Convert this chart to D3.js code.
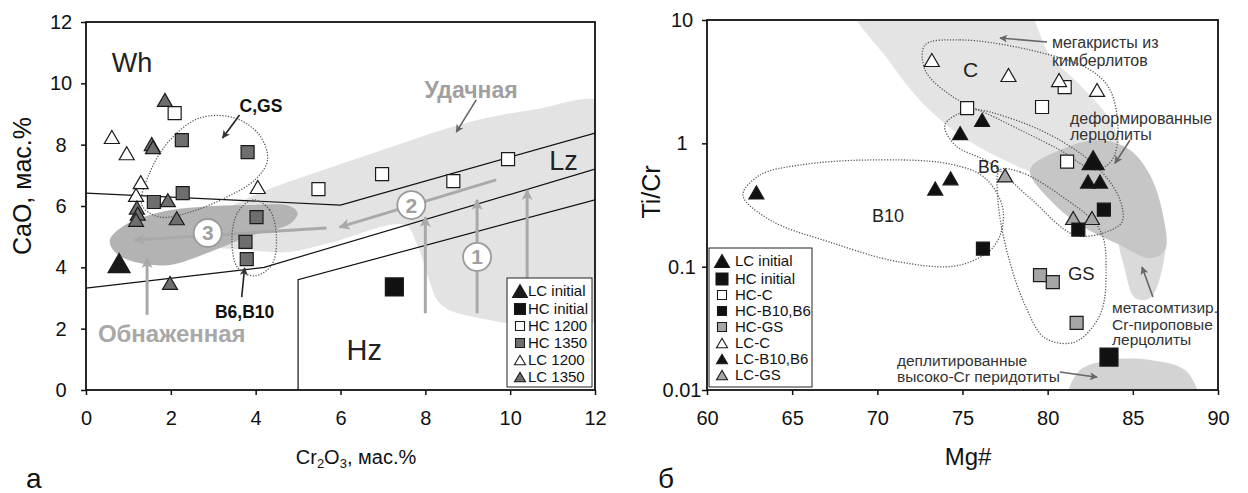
<!DOCTYPE html>
<html>
<head>
<meta charset="utf-8">
<script src="https://cdn.jsdelivr.net/npm/d3@7"></script>
<style>
body { margin: 0; background: #fff; }
svg { display: block; }
text { font-family: "Liberation Sans", Arial, sans-serif; }
</style>
</head>
<body>
<svg id="chart" width="1248" height="493"></svg>
<script>

// ---------- panel a : Cr2O3 vs CaO ----------
var lcInitialA = [[0.78, 4.14]];
var hcInitialA = [[7.27, 3.36]];
var hc1200A = [[2.09, 9.03], [5.48, 6.55], [6.98, 7.04], [8.66, 6.81], [9.95, 7.53]];
var hc1350A = [[2.26, 8.15], [3.81, 7.76], [1.6, 6.13], [2.28, 6.42], [4.02, 5.64], [3.76, 4.83], [3.79, 4.27]];
var lc1200A = [[0.61, 8.25], [0.96, 7.72], [1.29, 6.78], [1.18, 6.36], [4.05, 6.62]];
var lc1350A = [[1.86, 9.46], [1.55, 8.02], [1.58, 7.92], [1.93, 6.19], [2.14, 5.6], [1.98, 3.49],
	[1.2, 5.95], [1.22, 5.75], [1.18, 5.55]];
var ticksA = [0, 2, 4, 6, 8, 10, 12];

// classification lines (Cr2O3, CaO)
var lineUpper = [[0, 6.42], [6, 6.03], [12, 8.38]];
var lineMiddle = [[0, 3.32], [4.2, 4.0], [12, 7.2]];
var lineHz = [[5.0, 0], [5.0, 3.6], [12, 6.2]];

// grey fields
var udachnaya = [[1.98, 4.89], [2.68, 5.48], [4.09, 6.42], [5.04, 6.91], [6.99, 7.83], [8.96, 8.71], [10.52, 9.13],
	[12.3, 9.3], [12.3, 2.45], [8.92, 2.45], [8.33, 2.84], [8.09, 3.59], [7.81, 4.73], [7.51, 5.38],
	[5.74, 4.79], [4.8, 4.5], [3.86, 4.56]];
var obnazhennaya = [[0.56, 4.89], [0.92, 5.38], [1.74, 5.8], [2.68, 5.97], [3.86, 6.03], [4.8, 6.0], [4.99, 5.77],
	[4.8, 5.41], [3.86, 5.02], [2.92, 4.5], [1.98, 4.08], [1.15, 4.17], [0.68, 4.5]];

// dotted outlines
var loopCGS = [[1.32, 6.03], [1.51, 7.11], [1.98, 8.15], [2.68, 8.87], [3.51, 8.87], [4.09, 8.31], [4.28, 7.5],
	[3.98, 6.85], [3.27, 6.26], [2.45, 5.8], [1.74, 5.64]];
var loopB6B10 = [[3.95, 6.2], [4.33, 5.87], [4.49, 4.96], [4.38, 4.08], [3.98, 3.72], [3.58, 3.98], [3.44, 4.89], [3.58, 5.8]];

// ---------- panel b : Mg# vs Ti/Cr ----------
var lcInitialB = [[82.67, 0.73]];
var hcInitialB = [[83.6, 0.0185]];
var hcC = [[75.27, 1.93], [79.67, 1.97], [81.0, 2.86], [81.14, 0.71]];
var hcB10B6 = [[76.2, 0.14], [83.3, 0.29], [81.8, 0.2]];
var hcGS = [[79.55, 0.0855], [80.3, 0.075], [81.7, 0.035]];
var lcC = [[73.2, 4.74], [77.7, 3.58], [80.67, 3.26], [82.9, 2.71]];
var lcB10B6 = [[62.9, 0.4], [73.4, 0.43], [74.3, 0.52], [74.86, 1.21], [76.15, 1.55], [82.37, 0.49], [83.07, 0.49]];
var lcGS = [[77.5, 0.55], [81.5, 0.248], [82.6, 0.248]];
var ticksBx = [60, 65, 70, 75, 80, 85, 90];
var ticksBy = [0.01, 0.1, 1, 10];

var megacrysts = [[68.5, 14], [78.3, 14], [80.14, 5.2], [82.19, 2.71], [83.66, 1.55], [84.25, 0.883], [83.66, 0.553],
	[81.9, 0.459], [79.55, 0.553], [77.2, 0.76], [74.85, 1.17], [72.5, 2.24], [70.74, 4.56]];
var deformed = [[78.96, 0.608], [80.72, 0.883], [83.07, 1.064], [84.83, 0.883], [86.01, 0.553], [86.77, 0.262],
	[86.89, 0.136], [86.01, 0.117], [84.25, 0.15], [81.9, 0.218], [80.14, 0.347]];
var metasomatic = [[84.25, 0.181], [85.42, 0.206], [86.77, 0.181], [86.71, 0.094], [86.01, 0.0557], [85.13, 0.0557], [84.54, 0.094]];
var depleted = [[81.1, 0.008], [81.19, 0.00964], [81.9, 0.0145], [83.66, 0.0175], [86.01, 0.0175], [88.06, 0.0145],
	[88.83, 0.00964], [88.9, 0.008]];

var loopC = [[72.8, 6.27], [74.85, 6.89], [78.96, 5.71], [82.49, 3.94], [83.66, 2.71], [84.13, 1.28], [83.78, 0.733],
	[82.78, 0.608], [80.72, 0.883], [77.2, 1.55], [74.27, 2.47], [72.8, 3.94]];
var loopB6 = [[73.97, 1.41], [75.44, 1.86], [77.79, 1.6], [80.72, 1.06], [83.07, 0.608], [84.25, 0.347], [84.36, 0.23],
	[83.37, 0.19], [81.6, 0.18], [78.96, 0.36], [76.61, 0.693], [74.56, 0.968]];
var loopGS = [[77.2, 0.608], [78.38, 0.586], [80.72, 0.381], [83.07, 0.198], [83.43, 0.094], [83.07, 0.0406],
	[81.6, 0.0245], [79.84, 0.0264], [78.67, 0.0489], [77.67, 0.124], [77.08, 0.347]];
var loopB10 = [[62.11, 0.381], [63.11, 0.553], [65.46, 0.667], [69.57, 0.733], [74.27, 0.679], [76.32, 0.524],
	[77.38, 0.288], [76.91, 0.15], [74.85, 0.103], [71.33, 0.109], [67.22, 0.158], [63.7, 0.239]];

var svg = d3.select("#chart");

var defs = svg.append("defs");
function addMarker(id, color, len, wid) {
	defs.append("marker")
		.attr("id", id)
		.attr("markerUnits", "userSpaceOnUse")
		.attr("viewBox", "0 0 10 10")
		.attr("refX", 9).attr("refY", 5)
		.attr("markerWidth", len).attr("markerHeight", wid)
		.attr("orient", "auto")
		.append("path")
		.attr("d", "M0,0 L10,5 L0,10 L2.5,5 Z")
		.attr("fill", color);
}
addMarker("arrGrey", "#a9a9a9", 13, 11);
addMarker("arrDark", "#333", 10, 8);
addMarker("arrMid", "#666", 10, 8);

// symbol path, w = width in px
function sym(type, w) {
	if (type === "tri") {
		var r = w / (2 * Math.sqrt(3));
		return d3.symbol().type(d3.symbolTriangle).size(3 * Math.sqrt(3) * r * r)();
	}
	return d3.symbol().type(d3.symbolSquare).size(w * w)();
}

function drawPoints(g, data, xs, ys, type, w, fill) {
	var shift = type === "tri" ? w / (4 * Math.sqrt(3)) : 0;
	g.selectAll(null).data(data).enter().append("path")
		.attr("d", sym(type, w))
		.attr("transform", function (d) { return "translate(" + xs(d[0]) + "," + (ys(d[1]) + shift) + ")"; })
		.attr("fill", fill)
		.attr("stroke", "#1a1a1a")
		.attr("stroke-width", 1.2);
}

function area(g, pts, xs, ys, fill) {
	g.append("path")
		.attr("d", d3.line().x(function (d) { return xs(d[0]); }).y(function (d) { return ys(d[1]); })
			.curve(d3.curveCatmullRomClosed.alpha(0.5))(pts))
		.attr("fill", fill);
}

function loop(g, pts, xs, ys) {
	g.append("path")
		.attr("d", d3.line().x(function (d) { return xs(d[0]); }).y(function (d) { return ys(d[1]); })
			.curve(d3.curveCatmullRomClosed.alpha(0.5))(pts))
		.attr("fill", "none")
		.attr("stroke", "#555")
		.attr("stroke-width", 1.3)
		.attr("stroke-dasharray", "1.2,1.6");
}

function arrow(g, p0, p1, xs, ys, color, width, marker) {
	g.append("line")
		.attr("x1", xs(p0[0])).attr("y1", ys(p0[1]))
		.attr("x2", xs(p1[0])).attr("y2", ys(p1[1]))
		.attr("stroke", color).attr("stroke-width", width)
		.attr("marker-end", "url(#" + marker + ")");
}

function label(g, txt, p, xs, ys, size, color, weight) {
	return g.append("text")
		.attr("x", xs(p[0])).attr("y", ys(p[1]))
		.attr("font-size", size)
		.attr("fill", color)
		.attr("font-weight", weight || "normal")
		.text(txt);
}

function numberCircle(g, n, p, xs, ys) {
	g.append("circle")
		.attr("cx", xs(p[0])).attr("cy", ys(p[1])).attr("r", 14)
		.attr("fill", "#fff").attr("stroke", "#9a9a9a").attr("stroke-width", 1.8);
	g.append("text")
		.attr("x", xs(p[0])).attr("y", ys(p[1]) + 7.5)
		.attr("text-anchor", "middle")
		.attr("font-size", 21).attr("font-weight", "bold")
		.attr("fill", "#a0a0a0")
		.text(n);
}

function legend(g, x0, y0, w, h, rows, size) {
	g.append("rect").attr("x", x0).attr("y", y0).attr("width", w).attr("height", h)
		.attr("fill", "#fff").attr("stroke", "#222").attr("stroke-width", 1);
	rows.forEach(function (r) {
		var shift = r.type === "tri" ? r.w / (4 * Math.sqrt(3)) : 0;
		g.append("path")
			.attr("d", sym(r.type, r.w))
			.attr("transform", "translate(" + r.sx + "," + (r.y + shift) + ")")
			.attr("fill", r.fill).attr("stroke", "#1a1a1a").attr("stroke-width", 1.1);
		g.append("text").attr("x", r.tx).attr("y", r.y + size * 0.36)
			.attr("font-size", size).attr("fill", "#111").text(r.text);
	});
}

function styleAxis(a) {
	a.select(".domain").remove();
	a.selectAll(".tick line").attr("stroke", "#111").attr("stroke-width", 1.5);
	a.selectAll(".tick text").attr("font-size", 20).attr("fill", "#111")
		.attr("font-family", "'Liberation Sans', Arial, sans-serif");
}

// ================= panel a =================
var xA = d3.scaleLinear().domain([0, 12]).range([86, 595]);
var yA = d3.scaleLinear().domain([0, 12]).range([390, 22]);

defs.append("clipPath").attr("id", "clipA").append("rect")
	.attr("x", 86).attr("y", 22).attr("width", 509).attr("height", 368);

var gA = svg.append("g");
var fieldsA = gA.append("g").attr("clip-path", "url(#clipA)");
area(fieldsA, udachnaya, xA, yA, "#e3e3e3");
area(fieldsA, obnazhennaya, xA, yA, "#b3b3b3");

var lineA = d3.line().x(function (d) { return xA(d[0]); }).y(function (d) { return yA(d[1]); });
[lineUpper, lineMiddle, lineHz].forEach(function (l) {
	fieldsA.append("path").attr("d", lineA(l)).attr("fill", "none").attr("stroke", "#111").attr("stroke-width", 1.2);
});

// grey trend arrows
arrow(gA, [1.44, 2.45], [1.44, 4.3], xA, yA, "#a9a9a9", 3, "arrGrey");
arrow(gA, [8.0, 2.5], [8.0, 5.64], xA, yA, "#a9a9a9", 3, "arrGrey");
arrow(gA, [9.22, 2.5], [9.22, 6.2], xA, yA, "#a9a9a9", 3, "arrGrey");
arrow(gA, [10.4, 2.5], [10.4, 6.52], xA, yA, "#a9a9a9", 3, "arrGrey");
arrow(gA, [9.67, 6.85], [5.98, 5.31], xA, yA, "#a9a9a9", 3, "arrGrey");
arrow(gA, [5.67, 5.28], [1.15, 4.89], xA, yA, "#a9a9a9", 3, "arrGrey");
numberCircle(gA, "1", [9.22, 4.34], xA, yA);
numberCircle(gA, "2", [7.67, 6.03], xA, yA);
numberCircle(gA, "3", [2.87, 5.12], xA, yA);

loop(gA, loopCGS, xA, yA);
loop(gA, loopB6B10, xA, yA);

drawPoints(gA, hc1200A, xA, yA, "sq", 13, "#fff");
drawPoints(gA, hc1350A, xA, yA, "sq", 13, "#6e6e6e");
drawPoints(gA, lc1200A, xA, yA, "tri", 15, "#fff");
drawPoints(gA, lc1350A, xA, yA, "tri", 15, "#6e6e6e");
drawPoints(gA, lcInitialA, xA, yA, "tri", 22, "#1a1a1a");
drawPoints(gA, hcInitialA, xA, yA, "sq", 18, "#111");

// text labels
label(gA, "Wh", [0.61, 10.37], xA, yA, 27, "#222");
label(gA, "Lz", [10.92, 7.17], xA, yA, 27, "#222");
label(gA, "Hz", [6.14, 0.98], xA, yA, 29, "#222");
label(gA, "Удачная", [7.98, 9.52], xA, yA, 23, "#a0a0a0", "bold").attr("font-family", "'Open Sans', sans-serif");
label(gA, "Обнаженная", [0.28, 1.57], xA, yA, 24, "#a8a8a8", "bold").attr("font-family", "'Open Sans', sans-serif");
label(gA, "C,GS", [3.62, 9.06], xA, yA, 17.5, "#111", "bold");
label(gA, "B6,B10", [3.04, 2.35], xA, yA, 17.5, "#111", "bold");
arrow(gA, [9.2, 9.46], [8.73, 8.41], xA, yA, "#666", 1.6, "arrMid");
arrow(gA, [3.62, 8.97], [3.22, 8.22], xA, yA, "#222", 1.6, "arrDark");
arrow(gA, [3.67, 3.03], [3.74, 3.98], xA, yA, "#222", 1.6, "arrDark");

legend(gA, 507, 278, 85, 109, [
	{type: "tri", w: 15, fill: "#1a1a1a", sx: 520, tx: 528, y: 291, text: "LC initial"},
	{type: "sq", w: 11, fill: "#111", sx: 520, tx: 528, y: 309, text: "HC initial"},
	{type: "sq", w: 9, fill: "#fff", sx: 520, tx: 528, y: 326, text: "HC 1200"},
	{type: "sq", w: 9, fill: "#6e6e6e", sx: 520, tx: 528, y: 343, text: "HC 1350"},
	{type: "tri", w: 11, fill: "#fff", sx: 520, tx: 528, y: 360, text: "LC 1200"},
	{type: "tri", w: 11, fill: "#6e6e6e", sx: 520, tx: 528, y: 377, text: "LC 1350"}
], 15);

// axes a
var axA = gA.append("g").attr("transform", "translate(0,390)")
	.call(d3.axisBottom(xA).tickValues(ticksA).tickSize(5).tickPadding(16).tickSizeOuter(0));
var ayA = gA.append("g").attr("transform", "translate(86,0)")
	.call(d3.axisLeft(yA).tickValues(ticksA).tickSize(5).tickSizeOuter(0));
ayA.selectAll(".tick text").attr("x", -25).attr("text-anchor", "middle");
styleAxis(axA);
styleAxis(ayA);
gA.append("rect").attr("x", 86).attr("y", 22).attr("width", 509).attr("height", 368)
	.attr("fill", "none").attr("stroke", "#111").attr("stroke-width", 1.8);

var xt = gA.append("text").attr("x", 356).attr("y", 464).attr("text-anchor", "middle")
	.attr("font-size", 20).attr("fill", "#111");
xt.append("tspan").text("Cr");
xt.append("tspan").attr("font-size", 13).attr("dy", 4).text("2");
xt.append("tspan").attr("dy", -4).text("O");
xt.append("tspan").attr("font-size", 13).attr("dy", 4).text("3");
xt.append("tspan").attr("dy", -4).text(", мас.%");
gA.append("text").attr("transform", "translate(31,186) rotate(-90)").attr("text-anchor", "middle")
	.attr("font-size", 25).attr("fill", "#111").text("CaO, мас.%");
gA.append("text").attr("x", 26).attr("y", 488).attr("font-size", 28).attr("fill", "#111").text("а");

// ================= panel b =================
var xB = d3.scaleLinear().domain([60, 90]).range([707, 1218]);
var yB = d3.scaleLog().domain([0.01, 10]).range([390, 20]);

defs.append("clipPath").attr("id", "clipB").append("rect")
	.attr("x", 707).attr("y", 20).attr("width", 511).attr("height", 370);

var gB = svg.append("g");
var fieldsB = gB.append("g").attr("clip-path", "url(#clipB)");
area(fieldsB, megacrysts, xB, yB, "#e4e4e4");
area(fieldsB, metasomatic, xB, yB, "#dadada");
area(fieldsB, deformed, xB, yB, "#c6c6c6");
area(fieldsB, depleted, xB, yB, "#d3d3d3");

loop(gB, loopC, xB, yB);
loop(gB, loopB6, xB, yB);
loop(gB, loopGS, xB, yB);
loop(gB, loopB10, xB, yB);

drawPoints(gB, hcC, xB, yB, "sq", 13, "#fff");
drawPoints(gB, hcGS, xB, yB, "sq", 13, "#a6a6a6");
drawPoints(gB, lcC, xB, yB, "tri", 15, "#fff");
drawPoints(gB, lcGS, xB, yB, "tri", 15, "#a6a6a6");
drawPoints(gB, hcB10B6, xB, yB, "sq", 13, "#111");
drawPoints(gB, lcB10B6, xB, yB, "tri", 15, "#111");
drawPoints(gB, lcInitialB, xB, yB, "tri", 22, "#111");
drawPoints(gB, hcInitialB, xB, yB, "sq", 18, "#111");

label(gB, "C", [75.03, 3.45], xB, yB, 21, "#222");
label(gB, "B6", [75.91, 0.575], xB, yB, 17.5, "#222");
label(gB, "B10", [69.69, 0.23], xB, yB, 18, "#222");
label(gB, "GS", [81.19, 0.078], xB, yB, 18.5, "#222");
label(gB, "мегакристы из", [80.25, 5.93], xB, yB, 16, "#333");
label(gB, "кимберлитов", [80.25, 4.24], xB, yB, 16, "#333");
label(gB, "деформированные", [81.31, 1.44], xB, yB, 16, "#333");
label(gB, "лерцолиты", [81.31, 1.06], xB, yB, 16, "#333");
label(gB, "метасомтизир.", [83.78, 0.042], xB, yB, 15.5, "#333");
label(gB, "Cr-пироповые", [83.78, 0.0306], xB, yB, 15.5, "#333");
label(gB, "лерцолиты", [83.78, 0.0232], xB, yB, 15.5, "#333");
label(gB, "деплитированные", [71.15, 0.0157], xB, yB, 15.5, "#333");
label(gB, "высоко-Cr перидотиты", [71.15, 0.0116], xB, yB, 15.5, "#333");
arrow(gB, [79.96, 6.64], [77.2, 7.14], xB, yB, "#666", 1.6, "arrMid");
arrow(gB, [84.83, 1.06], [83.95, 0.69], xB, yB, "#666", 1.6, "arrMid");
arrow(gB, [86.18, 0.0568], [85.54, 0.0993], xB, yB, "#666", 1.6, "arrMid");
arrow(gB, [80.72, 0.014], [82.9, 0.0127], xB, yB, "#666", 1.6, "arrMid");

legend(gB, 709, 248, 103, 139, [
	{type: "tri", w: 15, fill: "#111", sx: 722, tx: 735, y: 261, text: "LC initial"},
	{type: "sq", w: 12, fill: "#111", sx: 722, tx: 735, y: 279, text: "HC initial"},
	{type: "sq", w: 9, fill: "#fff", sx: 722, tx: 735, y: 295, text: "HC-C"},
	{type: "sq", w: 9, fill: "#111", sx: 722, tx: 735, y: 311, text: "HC-B10,B6"},
	{type: "sq", w: 9, fill: "#a6a6a6", sx: 722, tx: 735, y: 327, text: "HC-GS"},
	{type: "tri", w: 11, fill: "#fff", sx: 722, tx: 735, y: 343, text: "LC-C"},
	{type: "tri", w: 11, fill: "#111", sx: 722, tx: 735, y: 359, text: "LC-B10,B6"},
	{type: "tri", w: 11, fill: "#a6a6a6", sx: 722, tx: 735, y: 375, text: "LC-GS"}
], 15);

var axB = gB.append("g").attr("transform", "translate(0,390)")
	.call(d3.axisBottom(xB).tickValues(ticksBx).tickSize(5).tickPadding(16).tickSizeOuter(0));
var ayB = gB.append("g").attr("transform", "translate(707,0)")
	.call(d3.axisLeft(yB).tickValues(ticksBy).tickFormat(function (d) { return String(d); }).tickSize(5).tickSizeOuter(0));
ayB.selectAll(".tick text").attr("x", -25).attr("text-anchor", "middle");
styleAxis(axB);
styleAxis(ayB);
gB.append("rect").attr("x", 707).attr("y", 20).attr("width", 511).attr("height", 370)
	.attr("fill", "none").attr("stroke", "#111").attr("stroke-width", 1.8);

gB.append("text").attr("x", 968).attr("y", 465).attr("text-anchor", "middle")
	.attr("font-size", 24).attr("fill", "#111").text("Mg#");
gB.append("text").attr("transform", "translate(660,192) rotate(-90)").attr("text-anchor", "middle")
	.attr("font-size", 25).attr("fill", "#111").text("Ti/Cr");
gB.append("text").attr("x", 658).attr("y", 488).attr("font-size", 28).attr("fill", "#111").text("б");

</script>
</body>
</html>
